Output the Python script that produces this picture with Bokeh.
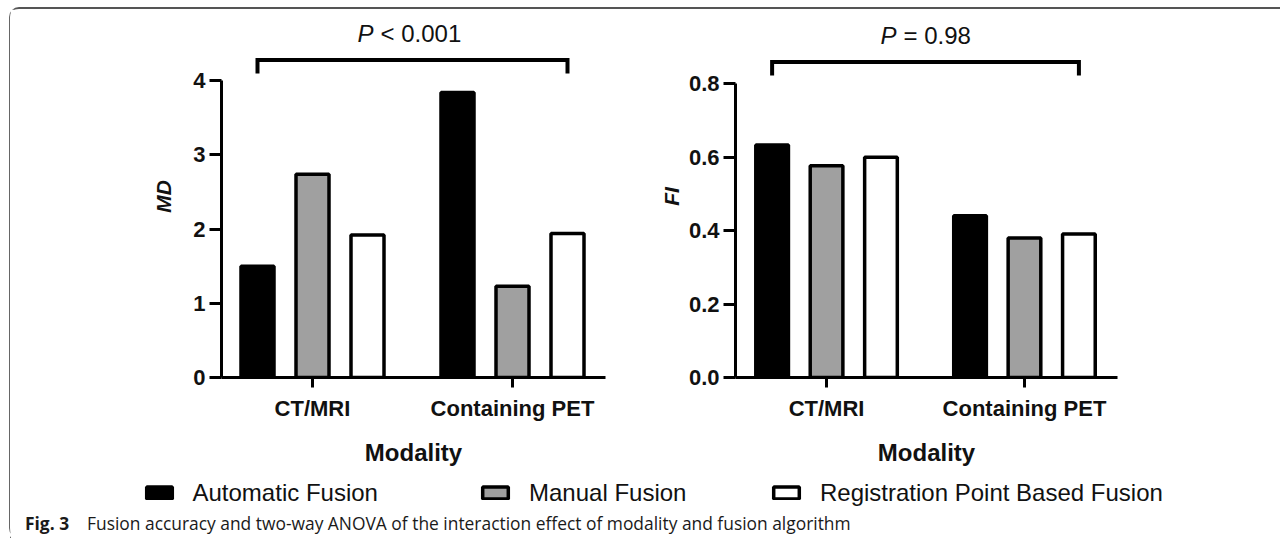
from bokeh.plotting import figure
from bokeh.layouts import row, column
from bokeh.models import Range1d, FixedTicker, PrintfTickFormatter, Legend, LegendItem, ColumnDataSource
from bokeh.core.properties import value
from bokeh.embed import file_html
from bokeh.resources import INLINE

# ---------------- data ----------------
modalities = ["CT/MRI", "Containing PET"]
algorithms = ["Automatic Fusion", "Manual Fusion", "Registration Point Based Fusion"]

md_automatic = [1.50, 3.84]
md_manual = [2.74, 1.23]
md_registration = [1.92, 1.94]

fi_automatic = [0.634, 0.441]
fi_manual = [0.577, 0.380]
fi_registration = [0.600, 0.391]

md_ticks = [0, 1, 2, 3, 4]
fi_ticks = [0.0, 0.2, 0.4, 0.6, 0.8]

p_md = "< 0.001"
p_fi = "= 0.98"

caption_bold = "Fig. 3"
caption_text = "Fusion accuracy and two-way ANOVA of the interaction effect of modality and fusion algorithm"

# ---------------- style ----------------
FONT = "Liberation Sans"
CAP_FONT = "Open Sans"
fill_colors = ["#000000", "#a0a0a0", "#ffffff"]
offsets = [-0.275, 0.0, 0.275]
BAR_W = 0.165
LW = 3.5


def make_chart(series, ylabel, xr, yr, ticks, fmt, p_rest, bracket_top, bracket_end,
               p_mid_y, p_dx, rest_dx, borders, frame, ylab_standoff):
    p = figure(frame_width=frame[0], frame_height=frame[1], x_range=xr, y_range=yr,
               min_border_left=borders[0], min_border_right=borders[1],
               min_border_top=borders[2], min_border_bottom=borders[3],
               output_backend="svg", toolbar_location=None)
    p.outline_line_color = None
    p.grid.visible = False
    p.background_fill_color = "white"
    p.border_fill_color = "white"

    for i, vals in enumerate(series):
        src = ColumnDataSource(dict(x=[g + offsets[i] for g in range(len(modalities))], top=vals))
        p.vbar(x="x", top="top", bottom=0, width=BAR_W, source=src,
               fill_color=fill_colors[i], line_color="black", line_width=LW)

    # bracket between first and last bars
    x0 = 0 + offsets[0]
    x1 = (len(modalities) - 1) + offsets[-1]
    p.line(x=[x0, x0, x1, x1], y=[bracket_end, bracket_top, bracket_top, bracket_end],
           line_color="black", line_width=4, line_join="miter")
    mid = (x0 + x1) / 2
    p.text(x=[mid], y=[p_mid_y], text=["P"], text_font=value(FONT), text_font_style="italic",
           text_font_size="24px", text_align="right", text_baseline="middle",
           x_offset=p_dx, text_color="#111111")
    p.text(x=[mid], y=[p_mid_y], text=[p_rest], text_font=value(FONT), text_font_style="normal",
           text_font_size="24px", text_align="left", text_baseline="middle",
           x_offset=rest_dx, text_color="#111111")

    # x axis
    xa = p.xaxis[0]
    xa.ticker = FixedTicker(ticks=list(range(len(modalities))))
    xa.major_label_overrides = {i: m for i, m in enumerate(modalities)}
    xa.bounds = (xr.start, xr.end)
    xa.axis_label = "Modality"
    xa.axis_label_text_font = FONT
    xa.axis_label_text_font_style = "bold"
    xa.axis_label_text_font_size = "24px"
    xa.axis_label_text_color = "#111111"
    xa.axis_label_standoff = 15
    xa.major_label_text_font = FONT
    xa.major_label_text_font_style = "bold"
    xa.major_label_text_font_size = "22px"
    xa.major_label_text_color = "#111111"
    xa.major_label_standoff = 8
    xa.axis_line_width = 3
    xa.axis_line_color = "black"
    xa.major_tick_line_width = 3
    xa.major_tick_in = 0
    xa.major_tick_out = 10
    xa.minor_tick_line_color = None

    # y axis
    ya = p.yaxis[0]
    ya.ticker = FixedTicker(ticks=ticks)
    ya.formatter = PrintfTickFormatter(format=fmt)
    ya.bounds = (ticks[0], ticks[-1])
    ya.axis_label = ylabel
    ya.axis_label_text_font = FONT
    ya.axis_label_text_font_style = "bold italic"
    ya.axis_label_text_font_size = "21px"
    ya.axis_label_text_color = "#111111"
    ya.axis_label_standoff = ylab_standoff
    ya.major_label_text_font = FONT
    ya.major_label_text_font_style = "bold"
    ya.major_label_text_font_size = "22px"
    ya.major_label_text_color = "#111111"
    ya.major_label_standoff = 4
    ya.axis_line_width = 3
    ya.axis_line_color = "black"
    ya.major_tick_line_width = 3
    ya.major_tick_in = 0
    ya.major_tick_out = 12
    ya.minor_tick_line_color = None
    return p


# left: MD (0 at page y=377px, 74.2 px per unit)
md_scale = 74.2
f1 = make_chart([md_automatic, md_manual, md_registration], "MD",
                Range1d(-0.455, 1.465), Range1d(0, 362 / md_scale), md_ticks, "%d", p_md,
                bracket_top=(377 - 59.5) / md_scale, bracket_end=(377 - 73) / md_scale,
                p_mid_y=(377 - 33) / md_scale, p_dx=-39, rest_dx=-32,
                borders=(211, 45, 6, 94), frame=(384, 362), ylab_standoff=15)

# right: FI (0 at page y=375px, 366.9 px per unit)
fi_scale = 366.9
f2 = make_chart([fi_automatic, fi_manual, fi_registration], "FI",
                Range1d(-0.46, 1.47), Range1d(0, 362 / fi_scale), fi_ticks, "%.1f", p_fi,
                bracket_top=(375 - 59.5) / fi_scale, bracket_end=(375 - 73) / fi_scale,
                p_mid_y=(375 - 33) / fi_scale, p_dx=-29, rest_dx=-22,
                borders=(85, 161, 4, 96), frame=(382, 362), ylab_standoff=3)

# bottom: legend + caption
f3 = figure(width=1270, height=67, x_range=Range1d(0, 1270), y_range=Range1d(0, 67),
            min_border=0, output_backend="svg", toolbar_location=None,
            x_axis_type=None, y_axis_type=None)
f3.outline_line_color = None
f3.grid.visible = False

legend_x = [132.5, 469, 760]
for i, name in enumerate(algorithms):
    # legend-only renderer kept outside the visible range
    r = f3.vbar(x=[-1000], top=[0], bottom=[0], width=1, fill_color=fill_colors[i],
                line_color="black", line_width=LW)
    lg = Legend(items=[LegendItem(label=value(name), renderers=[r])], location=(legend_x[i], 31.5),
                orientation="horizontal", glyph_width=32, glyph_height=15, label_standoff=18,
                label_text_font=FONT, label_text_font_size="24px", label_text_color="#111111",
                padding=0, margin=0, border_line_color=None, background_fill_alpha=0)
    f3.add_layout(lg)

f3.text(x=[14.5], y=[16], text=[caption_bold], text_font=value(CAP_FONT), text_font_style="bold",
        text_font_size="17.4px", text_baseline="middle", text_align="left", text_color="#1a1a1a")
f3.text(x=[76.5], y=[16], text=[caption_text], text_font=value(CAP_FONT), text_font_style="normal",
        text_font_size="17.4px", text_baseline="middle", text_align="left", text_color="#1a1a1a")

layout = column(row(f1, f2, spacing=0), f3, spacing=0,
                styles={"margin-top": "7px", "margin-left": "9px",
                        "border-top": "2px solid #555555", "border-left": "1.5px solid #666666",
                        "border-top-left-radius": "10px", "border-bottom-left-radius": "10px"})

open("out.html", "w").write(file_html(layout, INLINE))
